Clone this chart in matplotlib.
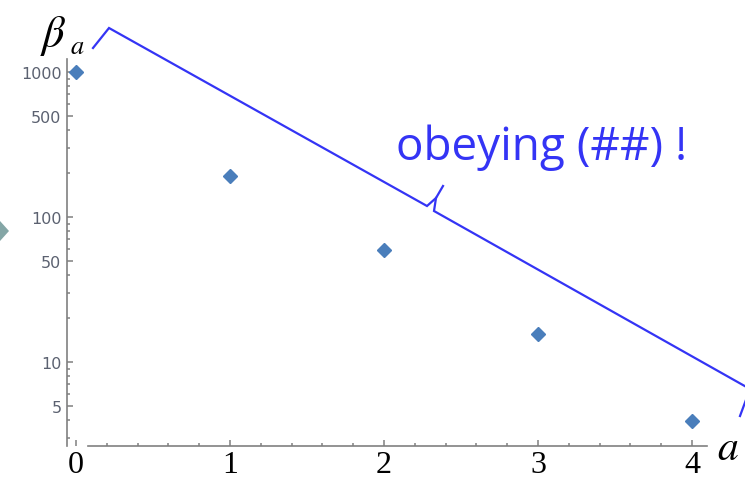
import matplotlib as mpl
import matplotlib.pyplot as plt
from matplotlib.patches import Polygon
from matplotlib.transforms import Affine2D
from matplotlib.ticker import FixedLocator, LogLocator, MultipleLocator, NullFormatter

mpl.rcParams.update({"mathtext.fontset": "stix"})

# data
a_values = [0, 1, 2, 3, 4]
beta_values = [1000, 192, 59, 15.6, 3.9]
y_ticks = [5, 10, 50, 100, 500, 1000]
x_ticks = [0, 1, 2, 3, 4]

W, H = 745, 481
fig = plt.figure(figsize=(W / 100, H / 100), dpi=100)
ax = fig.add_axes([67 / W, 1 - 447 / H, 640 / W, 387 / H])

pt_blue = "#4a7ebb"
axis_grey = "#808080"
label_grey = "#5b6170"
note_blue = "#3434f5"

ax.semilogy(a_values, beta_values, linestyle="none", marker="D",
            markersize=7, color=pt_blue, clip_on=False)

ax.set_xlim(-0.058, 4.097)
ax.set_ylim(2.634, 1229)

for side in ("top", "right"):
    ax.spines[side].set_visible(False)
for side in ("left", "bottom"):
    ax.spines[side].set_color(axis_grey)
    ax.spines[side].set_linewidth(1.2)
ax.spines["bottom"].set_bounds(0.08, 4.097)

ax.yaxis.set_major_locator(FixedLocator(y_ticks))
ax.yaxis.set_minor_locator(LogLocator(base=10, subs=range(2, 10)))
ax.yaxis.set_minor_formatter(NullFormatter())
ax.set_yticklabels([str(t) for t in y_ticks])

ax.xaxis.set_major_locator(FixedLocator(x_ticks))
ax.xaxis.set_minor_locator(MultipleLocator(0.2))
ax.set_xticklabels([str(t) for t in x_ticks])

ax.tick_params(which="both", direction="in", color=axis_grey, width=1.1)
ax.tick_params(which="major", length=4.5)
ax.tick_params(which="minor", length=2.5)
ax.tick_params(axis="y", which="major", labelsize=11.5, labelcolor=label_grey, pad=4)
ax.tick_params(axis="x", which="major", labelsize=23, pad=3)
for lab in ax.get_xticklabels():
    lab.set_fontfamily("Liberation Serif")

# pixel coords of the 745x481 canvas -> figure
px = Affine2D().scale(1 / W, -1 / H).translate(0, 1) + fig.transFigure

# axis names
fig.text(40, 47, r"$\beta$", transform=px, fontsize=32, ha="left", va="baseline")
fig.text(70, 54, r"$a$", transform=px, fontsize=19, ha="left", va="baseline")
fig.text(717, 460, r"$a$", transform=px, fontsize=30, ha="left", va="baseline")

# brace along the diagonal
brace_left = [(93, 49), (109, 29), (427, 207), (436, 199), (443, 187)]
brace_right = [(436, 199), (434, 212), (750, 390), (740, 417)]
for seg in (brace_left, brace_right):
    xs, ys = zip(*seg)
    fig.add_artist(plt.Line2D(xs, ys, transform=px, color=note_blue, lw=1.6,
                              solid_joinstyle="miter"))

fig.text(396, 160, "obeying (##) !", transform=px, fontsize=33, color=note_blue,
         fontfamily="Open Sans", ha="left", va="baseline")

# cut-off arrow at left edge
fig.add_artist(Polygon([(-3, 222), (0, 222), (9, 232), (0, 242), (-3, 242)],
                       closed=True, transform=px, facecolor="#84a6a6", edgecolor="none"))

fig.savefig("out.png", dpi=100)
